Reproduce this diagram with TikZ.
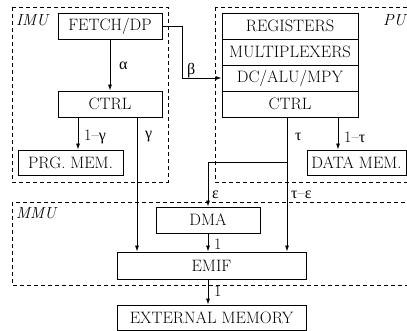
\documentclass[tikz,border=0pt]{standalone}
\usepackage{fontspec}
\newfontfamily\grk{Liberation Serif}
\usetikzlibrary{arrows.meta}
\begin{document}
\begin{tikzpicture}[x=1pt,y=-1pt,
  box/.style={draw,line width=0.9pt,inner sep=0pt,minimum height=26pt,font=\fontsize{16.5}{19}\selectfont},
  lab/.style={font=\fontsize{16}{19}\selectfont,inner sep=0pt},
  zlab/.style={font=\fontsize{16}{19}\selectfont\itshape,inner sep=0pt,anchor=west},
  arr/.style={line width=0.8pt,-{Latex[length=6pt,width=4pt]}},
  zone/.style={draw,dash pattern=on 4pt off 3pt,line width=0.8pt}]
\useasboundingbox (0,0) rectangle (407,331);
\begin{scope}
  \clip (0,0) rectangle (407,331);
  \draw[zone] (12,7) rectangle (168,182);
  \draw[zone] (215,7) rectangle (430,182);
  \draw[zone] (12,202) rectangle (430,285);
\end{scope}
\node[zlab] (imu) at (16,20) {IMU};
\node[zlab] (pu) at (383,20) {PU};
\node[zlab] (mmu) at (16,213) {MMU};
% boxes
\node[box,minimum width=104pt] (fetch) at (110,26) {FETCH/DP};
\node[box,minimum width=104pt] (ctrla) at (110,104) {CTRL};
\node[box,minimum width=105pt,minimum height=25pt] (prg) at (70.5,162.5) {PRG. MEM.};
\node[box,minimum width=136pt] (reg) at (290,26) {REGISTERS};
\node[box,minimum width=136pt] (mux) at (290,52) {MULTIPLEXERS};
\node[box,minimum width=136pt] (alu) at (290,78) {DC/ALU/MPY};
\node[box,minimum width=136pt] (ctrlb) at (290,104) {CTRL};
\node[box,minimum width=99pt,minimum height=25pt] (dmem) at (356.5,162.5) {DATA MEM.};
\node[box,minimum width=104pt] (dma) at (208,220) {DMA};
\node[box,minimum width=189pt,minimum height=27pt] (emif) at (211.5,265.5) {EMIF};
\node[box,minimum width=189pt,minimum height=25pt] (ext) at (211.5,317.5) {EXTERNAL MEMORY};
% helper coordinates
\coordinate (xl) at (78,0);
\coordinate (xg) at (137,0);
\coordinate (xb) at (182,0);
\coordinate (xe) at (208,0);
\coordinate (xt) at (287,0);
\coordinate (xd) at (338,0);
\coordinate (ye) at (0,162);
% connectors
\draw[arr] (fetch) -- (ctrla);
\node[lab,anchor=west] (la) at (119,66) {\grk α};
\draw[arr] (ctrla.south -| xl) -- (prg.north -| xl);
\node[lab,anchor=west] (lg1) at (84,137) {1–{\grk γ}};
\draw[arr] (ctrla.south -| xg) -- (emif.north -| xg);
\node[lab,anchor=west] (lg) at (145,137) {\grk γ};
\draw[arr] (fetch.east) -| (xb |- alu.west) -- (alu.west);
\node[lab,anchor=west] (lb) at (187,71) {\grk β};
\draw[arr] (ctrlb.south -| xt) -- (emif.north -| xt);
\node[lab,anchor=west] (lt) at (295,137) {\grk τ};
\draw[arr] (ctrlb.south -| xd) -- (dmem.north -| xd);
\node[lab,anchor=west] (lt1) at (344,137) {1–{\grk τ}};
\draw[arr] (xt |- ye) -| (dma.north -| xe);
\node[lab,anchor=west] (le) at (212,195) {\grk ε};
\node[lab,anchor=west] (lte) at (291,195) {{\grk τ}–{\grk ε}};
\draw[arr] (dma.south -| xe) -- (emif.north -| xe);
\node[lab,anchor=west] (l1) at (214,244) {1};
\draw[arr] (emif.south -| xe) -- (ext.north -| xe);
\node[lab,anchor=west] (l2) at (214,291) {1};
\end{tikzpicture}
\end{document}
